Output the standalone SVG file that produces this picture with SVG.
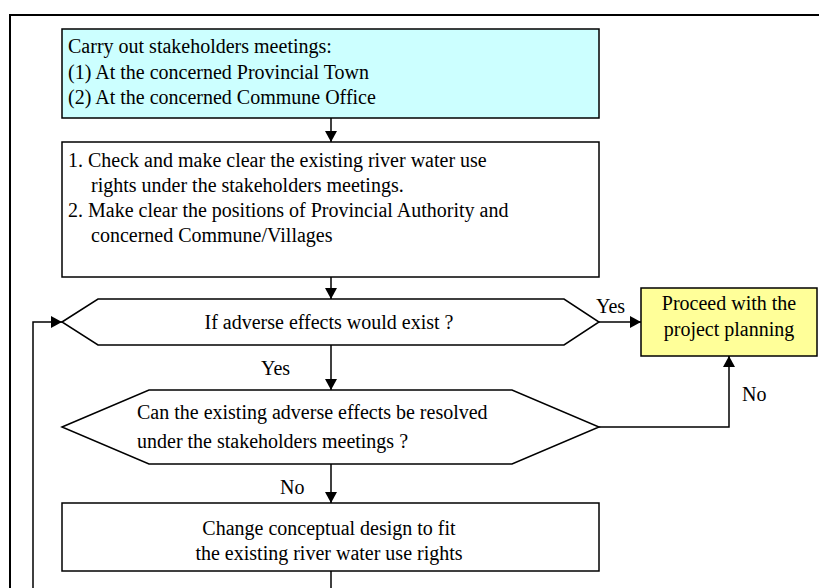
<svg xmlns="http://www.w3.org/2000/svg" width="819" height="588" viewBox="0 0 819 588">
  <style>
    .frame { fill: none; stroke: #000; stroke-width: 2; }
    .box { stroke: #000; stroke-width: 1.5; }
    .proc { fill: #fff; }
    .start { fill: #ccffff; }
    .end { fill: #ffff99; }
    .dec { fill: #fff; stroke: #000; stroke-width: 1.5; }
    .edge { fill: none; stroke: #000; stroke-width: 1.5; }
    text { font-family: "Liberation Serif", "Times New Roman", serif; font-size: 20px; fill: #000; }
    .c { text-anchor: middle; }
  </style>
  <defs>
    <marker id="arrow" viewBox="0 0 11 12" refX="11" refY="6" markerWidth="11" markerHeight="12" markerUnits="userSpaceOnUse" orient="auto">
      <path d="M0,0 L11,6 L0,12 Z" fill="#000"/>
    </marker>
  </defs>

  <rect x="0" y="0" width="819" height="588" fill="#fff"/>
  <!-- outer page frame -->
  <rect class="frame" x="10" y="15" width="830" height="600"/>

  <g id="n-meetings">
    <rect class="box start" x="62" y="29" width="537" height="89"/>
    <text x="68" y="53">Carry out stakeholders meetings:</text>
    <text x="68" y="79">(1) At the concerned Provincial Town</text>
    <text x="68" y="104">(2) At the concerned Commune Office</text>
  </g>

  <g id="n-check">
    <rect class="box proc" x="62" y="142" width="537" height="135"/>
    <text x="68" y="167">1. Check and make clear the existing river water use</text>
    <text x="91" y="192">rights under the stakeholders meetings.</text>
    <text x="68" y="217">2. Make clear the positions of Provincial Authority and</text>
    <text x="91" y="242">concerned Commune/Villages</text>
  </g>

  <g id="n-adverse">
    <polygon class="dec" points="62,322 98,299 564,299 599,322 564,345 98,345"/>
    <text class="c" x="329" y="329">If adverse effects would exist ?</text>
  </g>

  <g id="n-proceed">
    <rect class="box end" x="641" y="288" width="176" height="68"/>
    <text class="c" x="729" y="310">Proceed with the</text>
    <text class="c" x="729" y="336">project planning</text>
  </g>

  <g id="n-resolve">
    <polygon class="dec" points="62,427 149,390 512,390 599,427 512,464 149,464"/>
    <text x="137" y="419">Can the existing adverse effects be resolved</text>
    <text x="137" y="448">under the stakeholders meetings ?</text>
  </g>

  <g id="n-change">
    <rect class="box proc" x="62" y="503" width="537" height="68"/>
    <text class="c" x="329" y="535">Change conceptual design to fit</text>
    <text class="c" x="329" y="560">the existing river water use rights</text>
  </g>

  <g id="connectors">
    <line class="edge" x1="331" y1="118" x2="331" y2="142" marker-end="url(#arrow)"/>
    <line class="edge" x1="331" y1="277" x2="331" y2="299" marker-end="url(#arrow)"/>
    <line class="edge" x1="599" y1="322" x2="641" y2="322" marker-end="url(#arrow)"/>
    <line class="edge" x1="331" y1="345" x2="331" y2="390" marker-end="url(#arrow)"/>
    <polyline class="edge" points="599,427 729,427 729,356" marker-end="url(#arrow)"/>
    <line class="edge" x1="331" y1="464" x2="331" y2="503" marker-end="url(#arrow)"/>
    <line class="edge" x1="331" y1="571" x2="331" y2="590"/>
    <polyline class="edge" points="33,590 33,322 62,322" marker-end="url(#arrow)"/>
    <text x="596" y="313">Yes</text>
    <text x="261" y="375">Yes</text>
    <text x="742" y="401">No</text>
    <text x="280" y="494">No</text>
  </g>
</svg>
